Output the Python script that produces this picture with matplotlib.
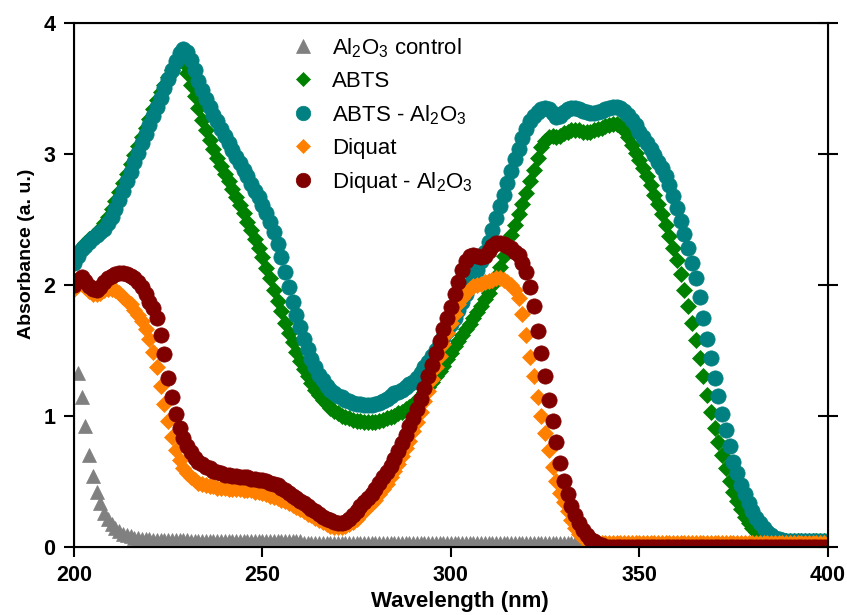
import matplotlib
matplotlib.use("Agg")
import matplotlib.pyplot as plt
import numpy as np

plt.rcParams["font.family"] = ["Liberation Sans", "DejaVu Sans"]
plt.rcParams["mathtext.fontset"] = "custom"
plt.rcParams["mathtext.rm"] = "Liberation Sans"
plt.rcParams["mathtext.it"] = "Liberation Sans:italic"
plt.rcParams["mathtext.bf"] = "Liberation Sans:bold"

# wavelength grid (nm), 1 nm steps
wavelength = np.arange(200, 401)
wavelength_control = np.arange(201, 401)

# Al2O3 control (starts at 201 nm)
control = ([1.33, 1.14, 0.92, 0.70, 0.54, 0.42, 0.33, 0.26, 0.21, 0.17,
            0.14, 0.12, 0.10, 0.09, 0.08, 0.07, 0.07, 0.06, 0.06, 0.06]
           + [0.05] * 10 + [0.04] * 30 + [0.03] * 140)

abts = ([2.22, 2.26, 2.29, 2.32, 2.35, 2.37, 2.40, 2.43, 2.47, 2.52,   # 200
         2.58, 2.64, 2.71, 2.78, 2.85, 2.92, 2.99, 3.06, 3.13, 3.20,   # 210
         3.27, 3.34, 3.41, 3.47, 3.53, 3.59, 3.64, 3.69, 3.72, 3.70,   # 220
         3.62, 3.53, 3.44, 3.35, 3.26, 3.18, 3.11, 3.04, 2.97, 2.91,   # 230
         2.85, 2.79, 2.73, 2.67, 2.61, 2.55, 2.48, 2.42, 2.35, 2.28,   # 240
         2.21, 2.13, 2.05, 1.96, 1.88, 1.80, 1.71, 1.63, 1.56, 1.49,   # 250
         1.42, 1.36, 1.30, 1.25, 1.20, 1.16, 1.12, 1.09, 1.06, 1.04,   # 260
         1.02, 1.00, 0.99, 0.98, 0.97, 0.96, 0.96, 0.95, 0.95, 0.95,   # 270
         0.95, 0.96, 0.97, 0.98, 0.99, 1.00, 1.02, 1.03, 1.05, 1.07,   # 280
         1.09, 1.12, 1.15, 1.18, 1.22, 1.26, 1.30, 1.34, 1.38, 1.43,   # 290
         1.48, 1.53, 1.57, 1.62, 1.66, 1.70, 1.75, 1.79, 1.84, 1.89,   # 300
         1.94, 2.00, 2.07, 2.14, 2.22, 2.30, 2.38, 2.46, 2.54, 2.62,   # 310
         2.70, 2.79, 2.88, 2.97, 3.05, 3.10, 3.13, 3.14, 3.13, 3.14,   # 320
         3.16, 3.17, 3.18, 3.18, 3.18, 3.17, 3.17, 3.17, 3.18, 3.19,   # 330
         3.20, 3.21, 3.22, 3.23, 3.23, 3.21, 3.18, 3.13, 3.07, 3.01,   # 340
         2.95, 2.89, 2.83, 2.76, 2.69, 2.62, 2.54, 2.46, 2.37, 2.28,   # 350
         2.19, 2.08, 1.96, 1.84, 1.71, 1.58, 1.44, 1.30, 1.16, 1.03,   # 360
         0.91, 0.80, 0.70, 0.60, 0.50, 0.42, 0.35, 0.29, 0.23, 0.18,   # 370
         0.14, 0.11, 0.09, 0.07, 0.06, 0.05, 0.04, 0.04, 0.04, 0.04]   # 380
        + [0.04] * 11)

abts_al2o3 = ([2.17, 2.22, 2.27, 2.30, 2.33, 2.36, 2.38, 2.40, 2.43, 2.47,   # 200
               2.52, 2.58, 2.65, 2.72, 2.79, 2.86, 2.94, 3.01, 3.08, 3.15,   # 210
               3.22, 3.29, 3.36, 3.43, 3.50, 3.57, 3.64, 3.71, 3.77, 3.80,   # 220
               3.78, 3.72, 3.64, 3.56, 3.49, 3.42, 3.36, 3.30, 3.25, 3.19,   # 230
               3.14, 3.08, 3.03, 2.98, 2.93, 2.88, 2.83, 2.77, 2.72, 2.67,   # 240
               2.61, 2.55, 2.48, 2.40, 2.31, 2.21, 2.10, 1.98, 1.87, 1.77,   # 250
               1.68, 1.59, 1.51, 1.43, 1.37, 1.31, 1.27, 1.23, 1.20, 1.17,   # 260
               1.15, 1.14, 1.12, 1.11, 1.10, 1.09, 1.09, 1.08, 1.08, 1.08,   # 270
               1.09, 1.10, 1.11, 1.13, 1.15, 1.17, 1.18, 1.20, 1.22, 1.24,   # 280
               1.26, 1.29, 1.33, 1.37, 1.41, 1.46, 1.50, 1.55, 1.60, 1.65,   # 290
               1.70, 1.75, 1.81, 1.87, 1.93, 1.99, 2.05, 2.11, 2.18, 2.25,   # 300
               2.33, 2.42, 2.51, 2.60, 2.69, 2.78, 2.87, 2.96, 3.04, 3.12,   # 310
               3.19, 3.25, 3.29, 3.32, 3.34, 3.35, 3.34, 3.31, 3.28, 3.29,   # 320
               3.32, 3.34, 3.35, 3.35, 3.34, 3.33, 3.32, 3.31, 3.31, 3.32,   # 330
               3.33, 3.34, 3.35, 3.36, 3.36, 3.35, 3.33, 3.30, 3.26, 3.22,   # 340
               3.17, 3.13, 3.08, 3.04, 2.99, 2.94, 2.89, 2.83, 2.76, 2.68,   # 350
               2.59, 2.49, 2.39, 2.28, 2.17, 2.05, 1.91, 1.75, 1.59, 1.44,   # 360
               1.29, 1.15, 1.01, 0.89, 0.77, 0.65, 0.56, 0.47, 0.40, 0.33,   # 370
               0.27, 0.22, 0.18, 0.14, 0.11, 0.09, 0.07, 0.06, 0.05, 0.04]   # 380
              + [0.04] * 11)

diquat = ([1.97, 2.00, 2.01, 1.98, 1.95, 1.93, 1.93, 1.94, 1.96, 1.97,   # 200
           1.97, 1.96, 1.94, 1.91, 1.88, 1.85, 1.81, 1.77, 1.72, 1.66,   # 210
           1.59, 1.49, 1.37, 1.23, 1.09, 0.96, 0.84, 0.74, 0.66, 0.60,   # 220
           0.56, 0.53, 0.51, 0.49, 0.48, 0.47, 0.46, 0.46, 0.45, 0.45,   # 230
           0.45, 0.44, 0.44, 0.44, 0.44, 0.43, 0.43, 0.43, 0.42, 0.42,   # 240
           0.41, 0.40, 0.39, 0.38, 0.37, 0.36, 0.35, 0.33, 0.32, 0.30,   # 250
           0.29, 0.27, 0.25, 0.24, 0.22, 0.20, 0.19, 0.17, 0.16, 0.15,   # 260
           0.15, 0.15, 0.16, 0.17, 0.19, 0.21, 0.24, 0.27, 0.30, 0.33,   # 270
           0.36, 0.40, 0.44, 0.48, 0.53, 0.58, 0.63, 0.69, 0.75, 0.81,   # 280
           0.88, 0.95, 1.03, 1.11, 1.19, 1.28, 1.37, 1.46, 1.55, 1.63,   # 290
           1.71, 1.78, 1.85, 1.90, 1.94, 1.97, 1.99, 2.00, 2.01, 2.02,   # 300
           2.03, 2.04, 2.05, 2.05, 2.04, 2.02, 2.00, 1.96, 1.90, 1.78,   # 310
           1.62, 1.45, 1.30, 1.14, 1.00, 0.87, 0.74, 0.61, 0.50, 0.41,   # 320
           0.34, 0.27, 0.20, 0.14, 0.10, 0.07, 0.05, 0.04, 0.03, 0.03]   # 330
          + [0.03] * 61)

diquat_al2o3 = ([2.00, 2.04, 2.06, 2.03, 1.99, 1.97, 1.96, 1.98, 2.02, 2.05,   # 200
                 2.07, 2.08, 2.09, 2.09, 2.08, 2.07, 2.05, 2.02, 1.98, 1.93,   # 210
                 1.87, 1.82, 1.75, 1.62, 1.47, 1.29, 1.14, 1.01, 0.91, 0.83,   # 220
                 0.77, 0.72, 0.68, 0.65, 0.63, 0.61, 0.60, 0.58, 0.57, 0.56,   # 230
                 0.55, 0.55, 0.54, 0.54, 0.53, 0.53, 0.53, 0.52, 0.52, 0.51,   # 240
                 0.51, 0.50, 0.49, 0.48, 0.47, 0.45, 0.43, 0.41, 0.39, 0.37,   # 250
                 0.35, 0.33, 0.31, 0.29, 0.27, 0.25, 0.23, 0.21, 0.20, 0.19,   # 260
                 0.18, 0.18, 0.19, 0.21, 0.24, 0.27, 0.31, 0.34, 0.37, 0.40,   # 270
                 0.44, 0.49, 0.53, 0.57, 0.62, 0.67, 0.73, 0.79, 0.85, 0.92,   # 280
                 0.98, 1.05, 1.13, 1.21, 1.30, 1.39, 1.48, 1.57, 1.66, 1.75,   # 290
                 1.83, 1.93, 2.02, 2.11, 2.18, 2.22, 2.23, 2.22, 2.21, 2.22,   # 300
                 2.26, 2.30, 2.32, 2.32, 2.31, 2.30, 2.28, 2.25, 2.23, 2.17,   # 310
                 2.10, 1.98, 1.84, 1.65, 1.48, 1.30, 1.12, 0.96, 0.80, 0.64,   # 320
                 0.50, 0.40, 0.31, 0.24, 0.18, 0.13, 0.09, 0.06, 0.04, 0.02,   # 330
                 0.01]                                                         # 340
                + [0.0] * 60)

series = [
    (wavelength_control, control, "Al$_2$O$_3$ control", "^", "#808080", 10.5),
    (wavelength, abts, "ABTS", "D", "#008000", 8.0),
    (wavelength, abts_al2o3, "ABTS - Al$_2$O$_3$", "o", "#008080", 11.0),
    (wavelength, diquat, "Diquat", "D", "#FF8000", 8.0),
    (wavelength, diquat_al2o3, "Diquat - Al$_2$O$_3$", "o", "#800000", 11.0),
]

fig = plt.figure(figsize=(8.47, 6.15), dpi=100)
ax = fig.add_axes([0.0874, 0.1111, 0.8898, 0.8515])

for x, y, label, marker, color, size in series:
    ax.plot(x, y, ls="none", marker=marker, ms=size, color=color,
            mec=color, mew=0.5, label=label)

ax.set_xlim(200, 400)
ax.set_ylim(0, 4)
ax.set_xticks([200, 250, 300, 350, 400])
ax.set_yticks([0, 1, 2, 3, 4])
ax.tick_params(axis="both", direction="out", length=7, width=1.5,
               labelsize=15.5, pad=6.5)
for lab in ax.get_xticklabels() + ax.get_yticklabels():
    lab.set_fontweight("bold")
for side in ["left", "right", "top", "bottom"]:
    ax.spines[side].set_linewidth(1.5)

# right-hand ticks cross the spine, without labels
ax_r = ax.twinx()
ax_r.set_ylim(0, 4)
ax_r.set_yticks([0, 1, 2, 3, 4])
ax_r.tick_params(axis="y", direction="inout", length=15, width=1.5,
                 labelright=False)

ax.set_xlabel("Wavelength (nm)", fontsize=16, fontweight="bold")
ax.xaxis.set_label_coords(0.512, -0.085)
ax.set_ylabel("Absorbance (a. u.)", fontsize=14, fontweight="bold")
ax.yaxis.set_label_coords(-0.052, 0.559)

ax.legend(loc="upper left", bbox_to_anchor=(0.286, 0.975), frameon=False,
          fontsize=16, handlelength=1.2, handletextpad=0.7,
          labelspacing=0.5, borderpad=0, borderaxespad=0, markerscale=0.95)

fig.savefig("out.png", dpi=100)
